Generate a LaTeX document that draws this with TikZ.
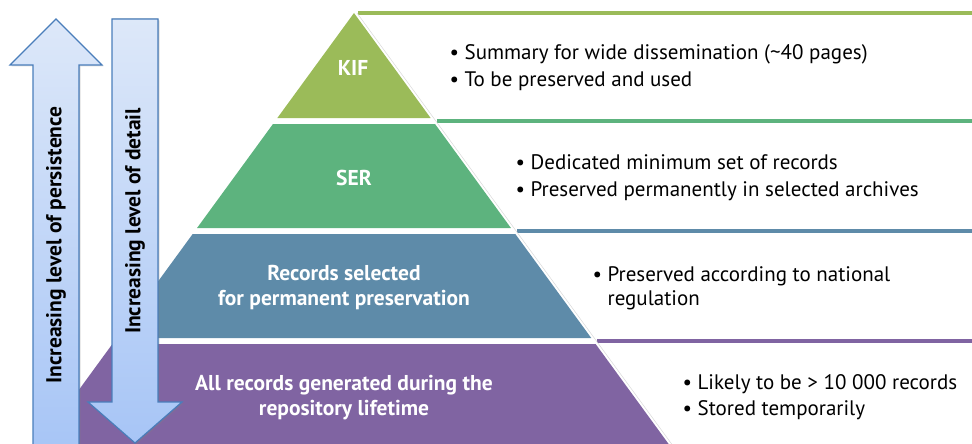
\documentclass[tikz,border=0pt]{standalone}
\usepackage{fontspec}
\setmainfont{PT Sans}
\usetikzlibrary{shadows}

\definecolor{kifgreen}{HTML}{9BBB59}
\definecolor{sergreen}{HTML}{5DB37E}
\definecolor{recblue}{HTML}{5E8BA9}
\definecolor{allpurple}{HTML}{8064A2}
\definecolor{arrowline}{HTML}{4A7EBB}
\definecolor{arrowtop}{HTML}{DDE8F9}
\definecolor{arrowbot}{HTML}{A7C5F6}

\tikzset{
  tiertext/.style={text=white, font=\fontsize{21.5}{25}\selectfont\bfseries, align=center},
  notetext/.style={anchor=west, font=\fontsize{21}{24}\selectfont, align=left},
  bigarrow/.style={draw=arrowline, line width=1.2pt, top color=arrowtop, bottom color=arrowbot,
    drop shadow={opacity=0.25, shadow xshift=1.5pt, shadow yshift=-1.5pt}},
  arrowtext/.style={rotate=90, font=\fontsize{21.5}{25}\selectfont\bfseries}
}

\begin{document}
\begin{tikzpicture}[x=1pt, y=-1pt]
    % \draw[help lines] (0,0) grid (972,444);
    \useasboundingbox (0,0) rectangle (972,444);
    \clip (0,0) rectangle (972,444);
    \def\apx{354}
    \def\apy{13}
    \def\slope{0.73}

    % tiers of the pyramid
    \foreach \ytop/\ybot/\col in {13/118/kifgreen, 124/228/sergreen, 234/338/recblue, 344/450/allpurple} {
      \fill[\col] ({\apx-\slope*(\ytop-\apy)},\ytop) -- ({\apx+\slope*(\ytop-\apy)},\ytop)
        -- ({\apx+\slope*(\ybot-\apy)},\ybot) -- ({\apx-\slope*(\ybot-\apy)},\ybot) -- cycle;
    }
    % rules over the notes
    \foreach \yl/\col in {13/kifgreen, 121/sergreen, 231/recblue, 341/allpurple} {
      \draw[\col, line width=3.5pt] ({\apx+4+\slope*(\yl-\apy)},\yl) -- (972,\yl);
    }
    \draw[black!15, line width=0.5pt] (\apx+3,\apy) -- ({\apx+3+\slope*(450-\apy)},450);

    \node[tiertext] (kif) at (353, 68) {KIF};
    \node[tiertext] (ser) at (354, 178) {SER};
    \node[tiertext] (sel) at (344, 288) {Records selected\\for permanent preservation};
    \node[tiertext] (all) at (344, 398) {All records generated during the\\repository lifetime};

    \node[notetext] (kifnote) at (446, 68) {\textbullet\ Summary for wide dissemination (\textasciitilde40 pages)\\[3pt]\textbullet\ To be preserved and used};
    \node[notetext] (sernote) at (512, 178) {\textbullet\ Dedicated minimum set of records\\[3pt]\textbullet\ Preserved permanently in selected archives};
    \node[notetext] (selnote) at (589, 288) {\textbullet\ Preserved according to national\\\phantom{\textbullet\ }regulation};
    \node[notetext] (allnote) at (679, 397) {\textbullet\ Likely to be > 10 000 records\\[2pt]\textbullet\ Stored temporarily};

    % the two arrows
    \filldraw[bigarrow] (33,450) -- (33,65) -- (10,65) -- (56,19) -- (102,65) -- (79,65) -- (79,450) -- cycle;
    \filldraw[bigarrow] (112,19) -- (158,19) -- (158,402) -- (182,402) -- (135,443) -- (88,402) -- (112,402) -- cycle;
    \node[arrowtext] (persist) at (56, 245) {Increasing level of persistence};
    \node[arrowtext] (detail) at (135, 221) {Increasing level of detail};
  \end{tikzpicture}
\end{document}
